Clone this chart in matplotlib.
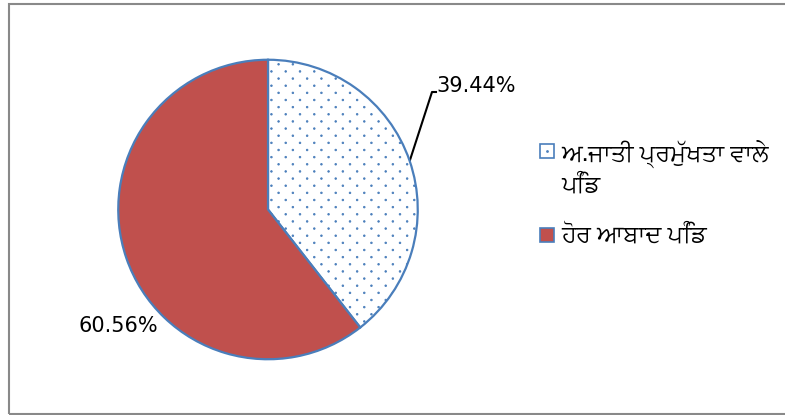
import matplotlib
matplotlib.use("Agg")
import numpy as np
import matplotlib.pyplot as plt
import matplotlib.hatch as mhatch
from matplotlib.path import Path
from matplotlib.patches import Rectangle

# ---- data ----
labels = ["ਅ.ਜਾਤੀ ਪ੍ਰਮੁੱਖਤਾ ਵਾਲੇ\nਪਿੰਡ", "ਹੋਰ ਆਬਾਦ ਪਿੰਡ"]
values = [39.44, 60.56]
pct_labels = ["39.44%", "60.56%"]
colors = ["white", "#C0504D"]
hatches = [".", None]

EDGE = "#4A7EBB"


# custom sparse dotted hatch (staggered rows, like the reference fill pattern)
class DotGrid(mhatch.HatchPatternBase):
    ncols, nrows, radius = 7, 14, 0.008

    def __init__(self, hatch, density):
        circ = Path.unit_circle()
        self.sv, self.sc = circ.vertices, circ.codes
        self.pts = []
        if hatch and "." in hatch:
            for row in range(self.nrows + 1):
                y = row / self.nrows
                if row % 2 == 0:
                    xs = np.arange(self.ncols + 1) / self.ncols
                else:
                    xs = (np.arange(self.ncols) + 0.5) / self.ncols
                self.pts += [(x, y) for x in xs]
        self.num_vertices = len(self.pts) * len(self.sv)

    def set_vertices_and_codes(self, vertices, codes):
        vertices[:] = np.concatenate([self.sv * self.radius + p for p in self.pts])
        codes[:] = np.concatenate([self.sc for _ in self.pts])


mhatch._hatch_types = [t for t in mhatch._hatch_types
                       if t is not mhatch.SmallFilledCircles] + [DotGrid]
plt.rcParams["hatch.linewidth"] = 0.6

gfam = ["FreeSans", "Noto Sans Gurmukhi", "DejaVu Sans"]

W, H = 785, 415
fig = plt.figure(figsize=(W / 100, H / 100), dpi=100)
ax = fig.add_axes([0, 0, 1, 1])
ax.set_xlim(0, W)
ax.set_ylim(H, 0)
ax.axis("off")

# outer chart border
fig.add_artist(Rectangle((8.5 / W, 1 - 413.5 / H), (800 - 8.5) / W, (413.5 - 4.5) / H,
                         transform=fig.transFigure, fill=False, ec="#898989", lw=1.5))

cx, cy, r = 268, 209.5, 150.5
pax = fig.add_axes([(cx - r) / W, 1 - (cy + r) / H, 2 * r / W, 2 * r / H])
wedges, _ = pax.pie(values, colors=colors, startangle=90, counterclock=False,
                    wedgeprops=dict(edgecolor=EDGE, linewidth=1.6))
for w, h in zip(wedges, hatches):
    if h:
        w.set_hatch(h)
pax.set_aspect("equal")
pax.set_xlim(-1.005, 1.005)
pax.set_ylim(-1.005, 1.005)

# data labels
ax.text(436, 86, pct_labels[0], fontsize=15, family="DejaVu Sans", va="center", ha="left", color="#000000")
ax.plot([410, 432, 436], [160, 92, 92], color="black", lw=1.5)
ax.text(78, 326, pct_labels[1], fontsize=15, family="DejaVu Sans", va="center", ha="left", color="#000000")

# legend
ax.add_patch(Rectangle((540, 144), 14, 14, fc="white", ec=EDGE, lw=1.2))
ax.plot([547], [151], marker="o", ms=2, color=EDGE, mec="none")
for line, base in zip(labels[0].split("\n"), [161, 192]):
    ax.text(561, base, line, fontsize=17.5, family=gfam, va="baseline", ha="left")
ax.add_patch(Rectangle((540, 228), 14, 14, fc="#C0504D", ec=EDGE, lw=1.2))
ax.text(561, 242, labels[1], fontsize=17.5, family=gfam, va="baseline", ha="left")

fig.savefig("out.png", dpi=100)
